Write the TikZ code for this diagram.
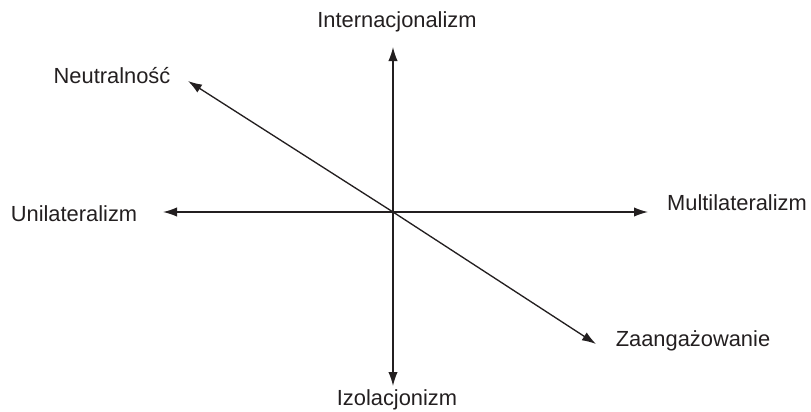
\documentclass[tikz,border=0pt]{standalone}
\usepackage{fontspec}
\setmainfont{Liberation Sans}
\usetikzlibrary{shapes,arrows.meta}
\definecolor{ink}{HTML}{231F20}

\begin{document}
\begin{tikzpicture}[x=0.75pt, y=-0.75pt]
	\tikzstyle{label} = [text=ink, inner sep=0pt, font=\fontsize{16.4}{19}\selectfont]
	\tikzstyle{line} = [draw=ink, line width=1pt, -{Latex[length=10.5pt,width=7pt]}]
	
	\useasboundingbox (0,0) rectangle (811,411);
	
	\coordinate (origin) at (393,212);
	\coordinate (tipup) at (393,47);
	\coordinate (tipdown) at (393,386);
	\coordinate (tipleft) at (163,212);
	\coordinate (tipright) at (648,212);
	\coordinate (tipneutral) at (188,81);
	\coordinate (tipengaged) at (596,344);
	
	\node [label] (intern) at (397,22) {Internacjonalizm};
	\node [label] (izol) at (397,400) {Izolacjonizm};
	\node [label] (unilat) at (74,214) {Unilateralizm};
	\node [label] (multilat) at (737,203) {Multilateralizm};
	\node [label] (neutral) at (112,76) {Neutralność};
	\node [label] (engaged) at (693,341) {Zaangażowanie};
	
	\path [line] (origin) -- (tipup);
	\path [line] (origin) -- (tipdown);
	\path [line] (origin) -- (tipleft);
	\path [line] (origin) -- (tipright);
	\path [line] (origin) -- (tipneutral);
	\path [line] (origin) -- (tipengaged);
	
\end{tikzpicture}
\end{document}
